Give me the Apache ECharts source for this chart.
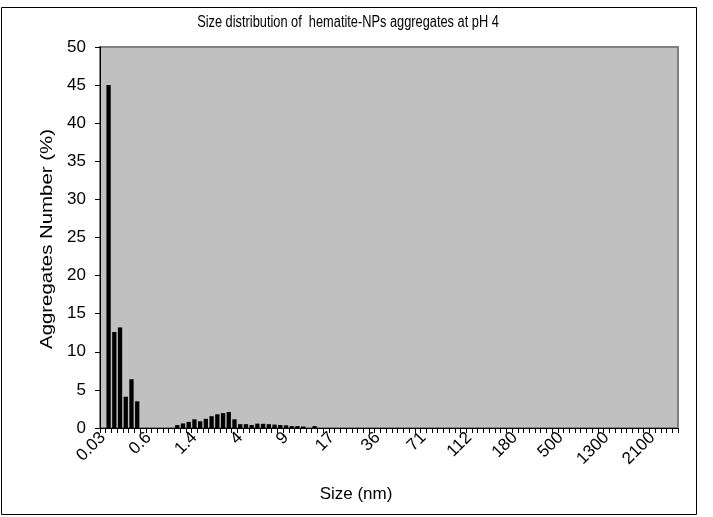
<!DOCTYPE html>
<html>
<head>
<meta charset="utf-8">
<script src="https://cdn.jsdelivr.net/npm/echarts@6/dist/echarts.min.js"></script>
<style>html,body{margin:0;padding:0;background:#fff}#c{width:713px;height:517px}</style>
</head>
<body>
<div id="c"></div>
<script>
const titleText = 'Size distribution of  hematite-NPs aggregates at pH 4';
const xName = 'Size (nm)';
const yName = 'Aggregates Number (%)';
const categories = [
  '0.03','0.05','0.07','0.1','0.15','0.2','0.3','0.45',
  '0.6','0.65','0.7','0.8','0.9','1','1.1','1.2',
  '1.4','1.6','1.8','2','2.3','2.6','3','3.5',
  '4','4.5','5','5.5','6','6.5','7','8',
  '9','10','11','12','13','14','15','16',
  '17','19','21','24','26','28','31','33',
  '36','40','44','48','52','57','62','66',
  '71','76','81','86','91','96','101','106',
  '112','120','128','136','145','155','164','172',
  '180','220','260','300','340','380','420','460',
  '500','600','700','800','900','1000','1100','1200',
  '1300','1400','1500','1600','1700','1800','1900','2000',
  '2100','2200','2300','2400','2500'
];
const values = [
  0, 45, 12.6, 13.2, 4.1, 6.4, 3.5, 0,
  0, 0, 0, 0, 0, 0.38, 0.6, 0.8,
  1.14, 0.88, 1.2, 1.55, 1.8, 1.95, 2.1, 1.14,
  0.5, 0.5, 0.39, 0.57, 0.55, 0.5, 0.45, 0.39,
  0.35, 0.25, 0.25, 0.2, 0, 0.25, 0, 0,
  0, 0, 0, 0, 0, 0, 0, 0,
  0, 0, 0, 0, 0, 0, 0, 0,
  0, 0, 0, 0, 0, 0, 0, 0,
  0, 0, 0, 0, 0, 0, 0, 0,
  0, 0, 0, 0, 0, 0, 0, 0,
  0, 0, 0, 0, 0, 0, 0, 0,
  0, 0, 0, 0, 0, 0, 0, 0,
  0, 0, 0, 0, 0
];
const yMin = 0, yMax = 50, yStep = 5;

const chart = echarts.init(document.getElementById('c'), null, {renderer: 'canvas'});
const font = 'Arial, "Liberation Sans", sans-serif';
chart.setOption({
  animation: false,
  backgroundColor: '#fff',
  textStyle: {fontFamily: font},
  graphic: [
    {type: 'rect', shape: {x: 1.5, y: 7.5, width: 695, height: 507},
     style: {fill: 'none', stroke: '#000', lineWidth: 1}, silent: true, z: -1},
    {type: 'text', x: 348, y: 23, scaleX: 0.8, silent: true,
     style: {text: titleText, fill: '#000', font: '16px ' + font, textAlign: 'center', textVerticalAlign: 'middle'}},
    {type: 'text', x: 356, y: 494, silent: true,
     style: {text: xName, fill: '#000', font: '17px ' + font, textAlign: 'center', textVerticalAlign: 'middle'}},
    {type: 'text', x: 47, y: 239, rotation: Math.PI / 2, scaleX: 1.2, silent: true,
     style: {text: yName, fill: '#000', font: '17px ' + font, textAlign: 'center', textVerticalAlign: 'middle'}}
  ],
  grid: {
    left: 100, top: 47, right: 35, bottom: 89, show: true,
    backgroundColor: '#C0C0C0', borderColor: '#808080', borderWidth: 2
  },
  xAxis: {
    type: 'category', data: categories, boundaryGap: true,
    axisLine: {show: true, lineStyle: {color: '#000', width: 1}},
    axisTick: {show: true, interval: 0, length: 5, inside: false, lineStyle: {color: '#000'}},
    axisLabel: {interval: 7, rotate: 45, fontSize: 17, color: '#000', margin: 7, fontFamily: font},
    splitLine: {show: false}
  },
  yAxis: {
    type: 'value', min: yMin, max: yMax, interval: yStep,
    axisLine: {show: true, lineStyle: {color: '#000', width: 1}},
    axisTick: {show: true, length: 5, inside: false, lineStyle: {color: '#000'}},
    axisLabel: {fontSize: 17, color: '#000', margin: 14, fontFamily: font},
    splitLine: {show: false}
  },
  series: [{
    type: 'bar', data: values, barCategoryGap: '25%',
    itemStyle: {color: '#000'}
  }]
});
</script>
</body>
</html>
